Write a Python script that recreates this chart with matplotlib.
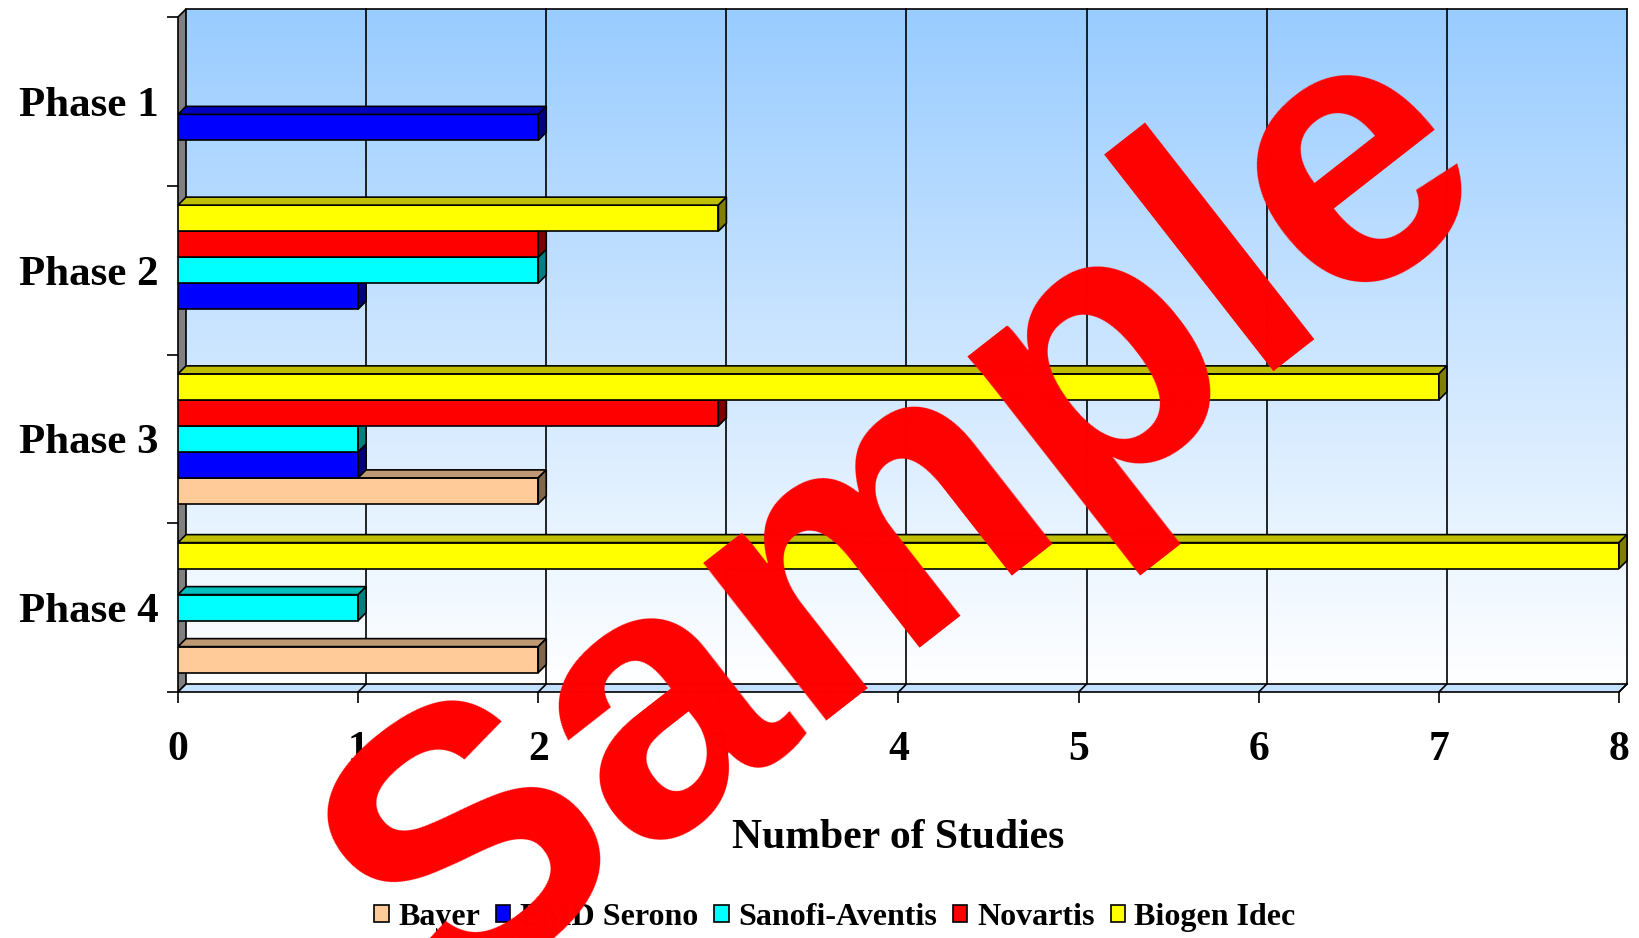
import matplotlib
matplotlib.use("Agg")
import matplotlib.pyplot as plt
from matplotlib.patches import Polygon, Patch
from matplotlib.colors import to_rgb
import numpy as np

phases = ["Phase 1", "Phase 2", "Phase 3", "Phase 4"]
companies = ["Bayer", "EMD Serono", "Sanofi-Aventis", "Novartis", "Biogen Idec"]
bayer = [0, 0, 2, 2]
emd_serono = [2, 1, 1, 0]
sanofi_aventis = [0, 2, 1, 1]
novartis = [0, 2, 3, 0]
biogen_idec = [0, 3, 7, 8]
colors = ["#FFCC99", "#0000FF", "#00FFFF", "#FF0000", "#FFFF00"]
series = [bayer, emd_serono, sanofi_aventis, novartis, biogen_idec]

W, H, DPI = 1640, 938, 100
fig = plt.figure(figsize=(W / DPI, H / DPI), dpi=DPI)
left, right, top, bottom = 178, 1619, 17, 692
ax = fig.add_axes([left / W, 1 - bottom / H, (right - left) / W, (bottom - top) / H])

xmax = 8
ax.set_xlim(0, xmax)
ax.set_ylim(len(phases) - 0.5, -0.5)

# depth of the 3d effect in data units (8 px)
depth = 8
dx = depth / ((right - left) / xmax)
dy = depth / ((bottom - top) / len(phases))
y_top, y_bot = -0.5, len(phases) - 0.5

# back wall gradient
grad = np.linspace(0, 1, 256).reshape(-1, 1)
c_top = np.array([153, 204, 255]) / 255
c_bot = np.array([255, 255, 255]) / 255
img = c_top + (c_bot - c_top) * grad[:, :, None]
im = ax.imshow(img, extent=[dx, xmax + dx, y_bot - dy, y_top - dy], aspect="auto",
               zorder=0, interpolation="bilinear")
im.set_clip_on(False)

# gridlines on the back wall
for k in range(1, xmax + 1):
    ax.plot([k + dx, k + dx], [y_bot - dy, y_top - dy], color="black", lw=1.2,
            zorder=1, clip_on=False)
ax.plot([dx, xmax + dx], [y_top - dy, y_top - dy], color="black", lw=1.2,
        zorder=1, clip_on=False)

# left wall and floor
ax.add_patch(Polygon([(0, y_top), (dx, y_top - dy), (dx, y_bot - dy), (0, y_bot)],
                     closed=True, facecolor="#808080", edgecolor="black", lw=1.2,
                     zorder=1, clip_on=False))
ax.add_patch(Polygon([(0, y_bot), (xmax, y_bot), (xmax + dx, y_bot - dy), (dx, y_bot - dy)],
                     closed=True, facecolor="#C4E0FF", edgecolor="black", lw=1.2,
                     zorder=1, clip_on=False))
for k in range(1, xmax + 1):
    ax.plot([k, k + dx], [y_bot, y_bot - dy], color="black", lw=1.2, zorder=1,
            clip_on=False)

# bars, drawn bottom slot first so upper bars hide lower top faces
h = 26 / ((bottom - top) / len(phases))
for i, (vals, col) in enumerate(zip(series, colors)):
    rgb = np.array(to_rgb(col))
    z = 2 + i
    for j, v in enumerate(vals):
        if v == 0:
            continue
        yc = j + (2 - i) * h
        y0, y1 = yc - h / 2, yc + h / 2
        ax.barh(yc, v, height=h, color=col, edgecolor="black", lw=1.2, zorder=z)
        ax.add_patch(Polygon([(0, y0), (v, y0), (v + dx, y0 - dy), (dx, y0 - dy)],
                             closed=True, facecolor=rgb * 0.75, edgecolor="black",
                             lw=1.2, zorder=z, clip_on=False))
        ax.add_patch(Polygon([(v, y0), (v + dx, y0 - dy), (v + dx, y1 - dy), (v, y1)],
                             closed=True, facecolor=rgb * 0.5, edgecolor="black",
                             lw=1.2, zorder=z, clip_on=False))

for s in ax.spines.values():
    s.set_visible(False)

serif = ["Liberation Serif", "DejaVu Serif"]
ax.set_xticks(range(xmax + 1))
ax.set_xticklabels([str(k) for k in range(xmax + 1)], family=serif, fontweight="bold",
                   fontsize=30)
ax.tick_params(axis="x", length=8, width=1.2, pad=20)
ax.set_yticks(range(len(phases)))
ax.set_yticklabels(phases, family=serif, fontweight="bold", fontsize=31)
ax.set_yticks(np.arange(len(phases) + 1) - 0.5, minor=True)
ax.tick_params(axis="y", which="major", length=0, pad=14)
ax.tick_params(axis="y", which="minor", length=8, width=1.2)
ax.set_xlabel("Number of Studies", family=serif, fontweight="bold", fontsize=30,
              labelpad=36)

handles = [Patch(facecolor=c, edgecolor="black", lw=1.2) for c in colors]
fig.legend(handles, companies, loc="center", bbox_to_anchor=(835 / W, 1 - 917 / H),
           ncol=5, frameon=False, prop={"family": serif, "weight": "bold", "size": 23},
           handlelength=0.45, handleheight=0.45, handletextpad=0.3, columnspacing=0.5)

# watermark
fig.text(910 / W, 1 - 523 / H, "Sample", color="#FF0000", fontsize=272,
         family=["Liberation Sans", "DejaVu Sans"], fontweight="bold", rotation=38,
         ha="center", va="center", zorder=20)

plt.savefig("out.png", dpi=DPI)
